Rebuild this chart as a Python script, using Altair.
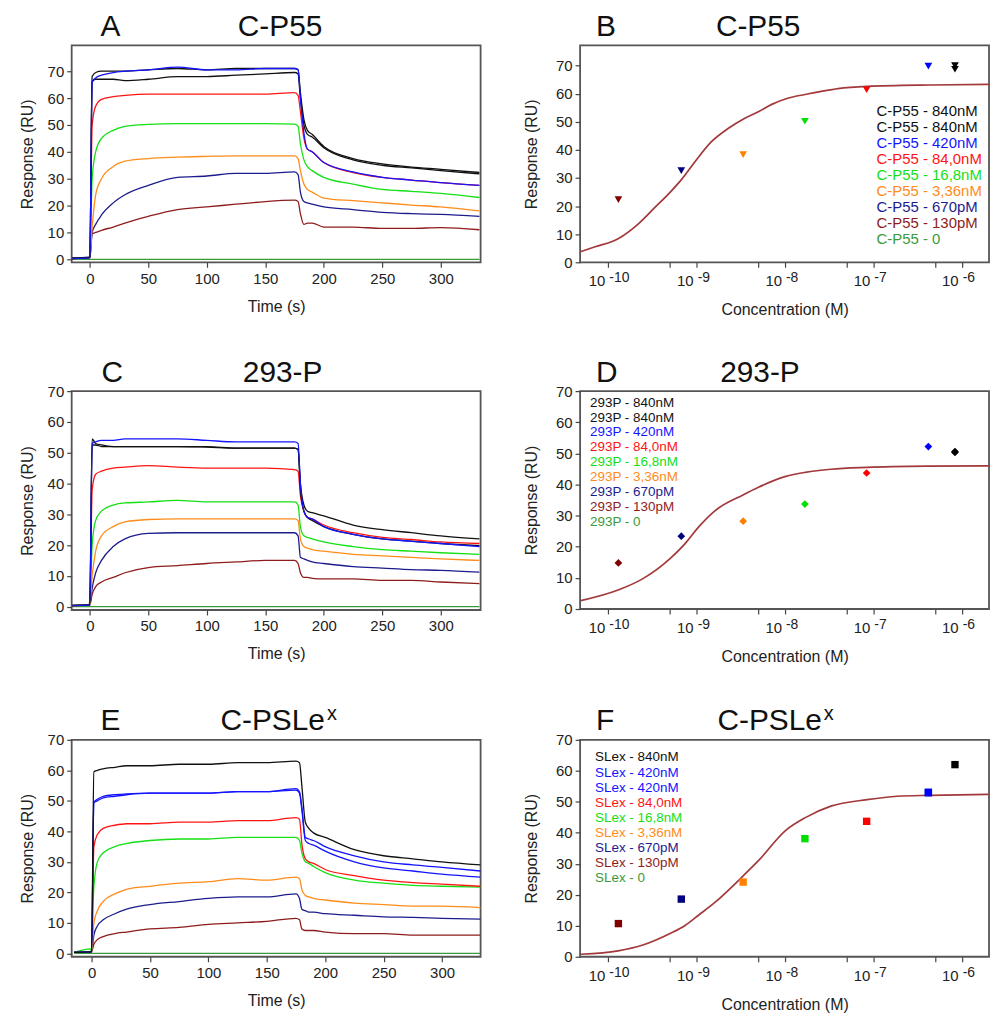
import altair as alt
import pandas as pd

FONT = "Liberation Sans"
TXT = "#222222"

# ---------------- colours ----------------
BLACK = "#111111"
BLUE = "#1414ff"
RED = "#ff1414"
GREEN = "#14e014"
ORANGE = "#ff8c1a"
NAVY = "#1c1c8e"
BROWN = "#8e1c1c"
DKGREEN = "#3a9a3a"
FIT = "#a3393a"

# ---------------- sensorgram data (left panels) ----------------
T = [-15, -1, 0, 2, 5, 10, 20, 30, 50, 75, 100, 125, 150, 175, 178, 180, 183, 186, 190, 200, 225, 250, 275, 300, 333]
T_ZERO = [-15, 333]
ZERO = [0, 0]

A_black1 = [0.5, 0.8, 1.0, 68, 69.5, 70, 70, 70, 70.5, 71, 70.5, 71, 71, 71, 70.5, 62, 52, 48, 46.5, 42, 37.5, 35.5, 34.3, 33.5, 32.3]
A_black2 = [0.3, 0.5, 0.8, 66, 67, 67, 67, 66.5, 67, 68, 68, 68.5, 69, 69.5, 69, 60, 50, 46.5, 45.5, 41.5, 37, 35, 34, 33, 31.8]
A_blue = [0.3, 0.5, 0.8, 66, 67.5, 68.5, 69.5, 70, 70.5, 71.5, 70.5, 70.5, 71, 71, 70.5, 60, 47, 41, 40, 36, 32.5, 30.5, 29.5, 28.5, 27.5]
A_red = [0.3, 0.5, 0.8, 50, 57, 59.5, 60.5, 61, 61.5, 61.5, 61.5, 61.5, 61.5, 62, 61, 55, 45, 41, 40, 36, 32.3, 30.5, 29.5, 28.5, 27.5]
A_green = [0.3, 0.5, 0.8, 30, 40, 45, 48, 49.5, 50.2, 50.5, 50.5, 50.5, 50.5, 50.3, 49.5, 43, 37, 34.5, 33, 30.5, 28, 26, 25.3, 24.5, 23]
A_orange = [0.3, 0.5, 0.5, 12, 24, 30, 34.5, 36.5, 37.5, 38, 38.3, 38.5, 38.5, 38.5, 37.5, 33, 28, 26, 25, 22.8, 21.8, 21, 20.2, 19.5, 18]
A_navy = [0.3, 0.5, 0.5, 10, 13, 16.5, 21, 24, 27.5, 30.5, 31, 32, 32, 32.5, 31.5, 25, 21.5, 21, 20.5, 19.5, 18.5, 17.5, 17, 16.7, 16]
A_brown = [0.3, 0.5, 0.5, 9.5, 10, 10.8, 12, 13.5, 16, 18.5, 19.5, 20.5, 21.5, 22, 21.5, 17, 13, 13.5, 13.5, 12, 12, 11.5, 11.5, 11.8, 11]

C_black1 = [0.5, 0.5, 2, 54.5, 53, 52.5, 52, 52, 52, 52, 52, 51.5, 51.5, 51.5, 51, 40, 33, 31, 30.5, 29.5, 26.5, 25, 24, 23, 22]
C_black2 = [0.3, 0.5, 0.5, 52.5, 52.5, 52, 52, 52, 52, 52, 51.8, 51.5, 51.5, 51.5, 51, 38, 31, 29, 28, 26, 23.5, 22, 21.3, 20.5, 19.8]
C_blue = [0.3, 0.5, 0.5, 53, 53.5, 54, 54, 54.5, 54.5, 54.5, 54, 53.5, 53.5, 53.5, 53, 40, 31, 29, 28.5, 26, 23.5, 22, 21.2, 20.5, 19.5]
C_red = [0.3, 0.5, 0.5, 38, 43, 44, 45, 45.3, 45.8, 45.3, 45, 45, 45, 44.5, 44, 36, 31, 29, 28.5, 26.5, 24, 22.5, 21.8, 21, 20.5]
C_green = [0.3, 0.5, 0.5, 20, 28, 31, 33, 33.7, 34, 34.5, 34, 34, 34, 34, 33, 26, 23, 22.5, 22, 21, 19.5, 18.5, 18, 17.5, 17]
C_orange = [0.3, 0.5, 0.5, 10, 18, 23, 26, 27.5, 28.3, 28.5, 28.5, 28.5, 28.5, 28.5, 28, 22, 19.5, 19, 18.5, 18, 17, 16.5, 16, 15.5, 15]
C_navy = [0.3, 0.5, 0.5, 6, 11, 15, 19.5, 22, 23.8, 24, 24, 24, 24, 24, 23, 16, 15.5, 15, 14.5, 14, 13, 12.5, 12, 11.8, 11.2]
C_brown = [0.3, 0.5, 0.5, 4, 6.5, 8, 9.5, 11, 12.7, 13.3, 14, 14.5, 15, 15, 14, 11, 9.5, 9.5, 9.2, 9, 9, 8.5, 8.5, 8, 7.5]

E_black = [0.3, 0.5, 0.5, 59.5, 60, 60.5, 61, 61.5, 61.5, 62, 62, 62.5, 62.5, 63, 62.5, 55, 43, 41, 39.5, 38, 34, 32, 31, 30, 29]
E_blue1 = [0.3, 0.5, 0.5, 49.5, 50, 51, 51.5, 52, 52.5, 52.5, 52.5, 53, 53, 54, 53, 48, 38, 37.5, 37, 35, 32, 30, 29, 28.2, 27]
E_blue2 = [0.3, 0.5, 0.5, 49.5, 50.5, 51.5, 52, 52.3, 52.5, 52.5, 52.5, 53, 53, 53.5, 52.5, 47, 37, 36, 35.5, 33.5, 30, 28, 27, 26, 25]
E_red = [0.3, 0.5, 0.5, 35, 39, 41, 42, 42.5, 42.5, 43, 43, 43.5, 43.5, 44.5, 44, 36, 31, 30, 29.5, 27.5, 25.5, 24, 23.2, 22.7, 22]
E_green = [0.3, 1.5, 0.5, 22, 30, 33, 35, 36, 37, 37.5, 37.5, 38, 38, 38, 37, 33, 30, 29.5, 28.5, 26.5, 24, 23, 22.3, 22, 21.7]
E_orange = [0.3, 0.5, 0.5, 10, 14, 17, 19.5, 21, 22, 23, 23.5, 24.5, 24, 25, 24.5, 21, 19, 18.5, 18, 17.5, 16.5, 16, 15.5, 15.5, 15]
E_navy = [0.3, 0.5, 0.5, 6, 9, 11, 13, 14.5, 16, 17, 18, 18.5, 18.5, 19.5, 18, 14.5, 14, 13.5, 13.5, 13, 12.5, 12, 11.8, 11.5, 11.2]
E_brown = [0.3, 0.5, 0.5, 3, 4.5, 5.5, 6.5, 7, 8, 8.5, 9.5, 10, 10.5, 11.5, 11, 8, 7.5, 7.5, 7.5, 7, 6.5, 6.5, 6, 6, 6]

# ---------------- dose-response data (right panels) ----------------
CONC = [8.4e-7, 8.4e-7, 4.2e-7, 8.4e-8, 1.68e-8, 3.36e-9, 6.7e-10, 1.3e-10]
PT_COLORS = ["#000000", "#000000", "#0000ff", "#ff0000", "#00e000", "#ff8000", "#000080", "#800000"]
B_resp = [70.0, 68.7, 69.8, 61.4, 50.2, 38.3, 32.6, 22.3]
D_resp = [50.3, 50.6, 52.2, 43.7, 33.7, 28.2, 23.4, 14.8]
CONC_F = [8.4e-7, 4.2e-7, 4.2e-7, 8.4e-8, 1.68e-8, 3.36e-9, 6.7e-10, 1.3e-10]
PT_COLORS_F = ["#000000", "#0000ff", "#0000ff", "#ff0000", "#00e000", "#ff8000", "#000080", "#800000"]
F_resp = [62.0, 52.9, 53.1, 43.7, 38.1, 24.1, 18.6, 10.7]

B_fit_c = [4.8e-11, 7.1e-11, 1.29e-10, 2.19e-10, 3.39e-10, 5.0e-10, 6.76e-10, 1.0e-9, 1.48e-9, 2.29e-9,
           3.47e-9, 5.0e-9, 7.08e-9, 1.05e-8, 1.74e-8, 2.57e-8, 3.98e-8, 8.5e-8, 4.37e-7, 2.04e-6]
B_fit_v = [3.7, 5.5, 8.4, 13.7, 19.6, 24.9, 29.5, 36.6, 43.0, 47.7, 51.2, 53.6, 56.2, 58.3, 59.8, 60.8, 61.8, 62.6, 63.1, 63.3]
D_fit_c = [4.9e-11, 1.29e-10, 2.41e-10, 5.0e-10, 7.4e-10, 1.05e-9, 1.62e-9, 3.39e-9, 5.0e-9, 1.02e-8,
           1.7e-8, 3.31e-8, 8.5e-8, 4.37e-7, 2.04e-6]
D_fit_v = [2.7, 6.1, 9.6, 16.2, 21.0, 26.3, 31.6, 36.7, 39.1, 42.6, 43.9, 44.9, 45.5, 45.9, 46.0]
F_fit_c = [4.9e-11, 1.29e-10, 2.41e-10, 5.0e-10, 7.4e-10, 1.05e-9, 1.62e-9, 3.39e-9, 5.0e-9, 1.02e-8,
           1.7e-8, 3.31e-8, 8.5e-8, 1.86e-7, 4.37e-7, 2.04e-6]
F_fit_v = [0.8, 1.9, 3.7, 7.5, 10.1, 13.4, 17.6, 26.2, 31.0, 40.8, 44.9, 48.6, 50.7, 51.8, 52.1, 52.4]

LEG_B = ["C-P55 - 840nM", "C-P55 - 840nM", "C-P55 - 420nM", "C-P55 - 84,0nM", "C-P55 - 16,8nM",
         "C-P55 - 3,36nM", "C-P55 - 670pM", "C-P55 - 130pM", "C-P55 - 0"]
LEG_D = ["293P - 840nM", "293P - 840nM", "293P - 420nM", "293P - 84,0nM", "293P - 16,8nM",
         "293P - 3,36nM", "293P - 670pM", "293P - 130pM", "293P - 0"]
LEG_F = ["SLex - 840nM", "SLex - 420nM", "SLex - 420nM", "SLex - 84,0nM", "SLex - 16,8nM",
         "SLex - 3,36nM", "SLex - 670pM", "SLex - 130pM", "SLex - 0"]
LEG_COLORS = [BLACK, BLACK, BLUE, RED, GREEN, ORANGE, NAVY, BROWN, DKGREEN]
LEG_COLORS_F = [BLACK, BLUE, BLUE, RED, GREEN, ORANGE, NAVY, BROWN, DKGREEN]

# ---------------- ticks ----------------
TIME_TICKS = [0, 50, 100, 150, 200, 250, 300]
RESP_TICKS = [0, 10, 20, 30, 40, 50, 60, 70]
CONC_TICKS = [1e-10, 5e-10, 1e-9, 5e-9, 1e-8, 5e-8, 1e-7, 5e-7, 1e-6]
DECADES = [1e-10, 1e-9, 1e-8, 1e-7, 1e-6]
EXPONENTS = ["-10", "-9", "-8", "-7", "-6"]

W = 411
TITLE_FS = 30
TITLE_Y = -9.5


def title_layers(letter, name, letter_x, name_x, name_align="center", sup=None, sup_x=None):
    df = pd.DataFrame({"letter": [letter], "name": [name]})
    base = alt.Chart(df)
    layers = [
        base.mark_text(align="left", baseline="alphabetic", fontSize=TITLE_FS, font=FONT, color="#111111")
        .encode(x=alt.value(letter_x), y=alt.value(TITLE_Y), text="letter:N"),
        base.mark_text(align=name_align, baseline="alphabetic", fontSize=TITLE_FS, font=FONT, color="#111111")
        .encode(x=alt.value(name_x), y=alt.value(TITLE_Y), text="name:N"),
    ]
    if sup:
        layers.append(
            base.mark_text(align="left", baseline="alphabetic", fontSize=20, font=FONT, color="#111111")
            .encode(x=alt.value(sup_x), y=alt.value(TITLE_Y - 10), text=alt.value(sup))
        )
    return layers


def sensor_chart(series, letter, name, ydom, height, xdom, letter_x, name_x, name_align="center",
                 sup=None, sup_x=None):
    rows = []
    for k, (times, vals, col) in enumerate(series):
        for t, v in zip(times, vals):
            rows.append({"t": t, "v": v, "k": k, "col": col})
    df = pd.DataFrame(rows)
    xs = alt.Scale(domain=xdom, nice=False, zero=False)
    ys = alt.Scale(domain=ydom, nice=False, zero=False)
    lines = alt.Chart(df).mark_line(strokeWidth=1.3, clip=True, interpolate="monotone").encode(
        x=alt.X("t:Q", scale=xs,
                axis=alt.Axis(values=TIME_TICKS, title="Time (s)", labelPadding=4, titlePadding=12)),
        y=alt.Y("v:Q", scale=ys,
                axis=alt.Axis(values=RESP_TICKS, title="Response (RU)", titlePadding=12)),
        color=alt.Color("col:N", scale=None),
        detail="k:N",
    )
    return alt.layer(lines, *title_layers(letter, name, letter_x, name_x, name_align, sup, sup_x)).properties(
        width=W, height=height)


def dose_chart(conc, resp, pcolors, shape, size, fit_c, fit_v, leg_labels, leg_colors,
               leg_x, leg_y0, leg_step, leg_fs, ydom, height, letter, name, letter_x, name_x,
               name_align="center", sup=None, sup_x=None):
    xs = alt.Scale(type="log", domain=[4.79e-11, 2.04e-6], nice=False)
    ys = alt.Scale(domain=ydom, nice=False, zero=False)
    xaxis = alt.Axis(values=CONC_TICKS, labels=False, title="Concentration (M)", titlePadding=34)
    yaxis = alt.Axis(values=RESP_TICKS, title="Response (RU)", titlePadding=16)

    fit = alt.Chart(pd.DataFrame({"c": fit_c, "v": fit_v})).mark_line(
        color=FIT, strokeWidth=1.7, interpolate="monotone", clip=True
    ).encode(x=alt.X("c:Q", scale=xs, axis=xaxis), y=alt.Y("v:Q", scale=ys, axis=yaxis))

    pts = alt.Chart(pd.DataFrame({"c": conc, "v": resp, "col": pcolors})).mark_point(
        shape=shape, filled=True, size=size, opacity=1
    ).encode(x=alt.X("c:Q", scale=xs, axis=xaxis), y=alt.Y("v:Q", scale=ys, axis=yaxis),
             color=alt.Color("col:N", scale=None))

    lab_df = pd.DataFrame({"c": DECADES, "exp": EXPONENTS, "v": [ydom[0]] * len(DECADES)})
    base10 = alt.Chart(lab_df).mark_text(
        align="right", baseline="alphabetic", dx=-3, dy=24, fontSize=15, font=FONT, color=TXT
    ).encode(x=alt.X("c:Q", scale=xs, axis=xaxis), y=alt.Y("v:Q", scale=ys, axis=yaxis),
             text=alt.value("10"))
    exps = alt.Chart(lab_df).mark_text(
        align="left", baseline="alphabetic", dx=1, dy=20, fontSize=14, font=FONT, color=TXT
    ).encode(x=alt.X("c:Q", scale=xs, axis=xaxis), y=alt.Y("v:Q", scale=ys, axis=yaxis),
             text="exp:N")

    main = alt.layer(fit, pts, base10, exps,
                     *title_layers(letter, name, letter_x, name_x, name_align, sup, sup_x))

    leg_df = pd.DataFrame({"label": leg_labels, "col": leg_colors, "row": list(range(len(leg_labels)))})
    n = len(leg_labels) - 1
    leg = alt.Chart(leg_df).mark_text(
        align="left", baseline="alphabetic", fontSize=leg_fs, font=FONT
    ).encode(
        x=alt.value(leg_x),
        y=alt.Y("row:Q", scale=alt.Scale(domain=[0, n], range=[leg_y0, leg_y0 + n * leg_step]), axis=None),
        text="label:N",
        color=alt.Color("col:N", scale=None),
    )
    return alt.layer(main, leg).resolve_scale(y="independent").properties(width=W, height=height)


def sensor_series(black1, black2, blue, red, green, orange, navy, brown):
    return [
        (T_ZERO, ZERO, DKGREEN),
        (T, brown, BROWN),
        (T, navy, NAVY),
        (T, orange, ORANGE),
        (T, green, GREEN),
        (T, red, RED),
        (T, black2, BLACK),
        (T, black1, BLACK),
        (T, blue, BLUE),
    ]


chartA = sensor_chart(sensor_series(A_black1, A_black2, A_blue, A_red, A_green, A_orange, A_navy, A_brown),
                      "A", "C-P55", [-1.1, 79.6], 218, [-15.5, 334], 29, 209.5)
chartC = sensor_chart(sensor_series(C_black1, C_black2, C_blue, C_red, C_green, C_orange, C_navy, C_brown),
                      "C", "293-P", [-1.1, 70], 220, [-15.5, 334], 30, 212)
seriesE = [
    (T_ZERO, ZERO, DKGREEN), (T, E_brown, BROWN), (T, E_navy, NAVY), (T, E_orange, ORANGE),
    (T, E_green, GREEN), (T, E_red, RED), (T, E_blue2, BLUE), (T, E_blue1, BLUE), (T, E_black, BLACK),
]
chartE = sensor_chart(seriesE, "E", "C-PSLe", [-1.1, 70], 218, [-17, 333], 29, 254.5, "right", "x", 256.5)

chartB = dose_chart(CONC, B_resp, PT_COLORS, "triangle-down", 60, B_fit_c, B_fit_v, LEG_B, LEG_COLORS,
                    298, 71, 16.1, 15, [0, 77.2], 218, "B", "C-P55", 16, 179)
chartD = dose_chart(CONC, D_resp, PT_COLORS, "diamond", 60, D_fit_c, D_fit_v, LEG_D, LEG_COLORS,
                    10, 15.6, 15, 13.5, [0, 70], 219, "D", "293-P", 16, 180.8)
chartF = dose_chart(CONC_F, F_resp, PT_COLORS_F, "square", 55, F_fit_c, F_fit_v, LEG_F, LEG_COLORS_F,
                    15, 21.7, 15.2, 13.5, [0, 70], 218, "F", "C-PSLe", 16, 243, "right", "x", 245)

rows = [
    alt.hconcat(chartA, chartB, spacing=41),
    alt.hconcat(chartC, chartD, spacing=41),
    alt.hconcat(chartE, chartF, spacing=41),
]

chart = alt.vconcat(*rows, spacing=37.5).properties(
    padding={"left": 10, "top": 0, "right": 0, "bottom": 0}
).configure_view(
    stroke="#555555", strokeWidth=1.8
).configure_axis(
    labelFont=FONT, titleFont=FONT, labelFontSize=15, titleFontSize=16, titleFontWeight="normal",
    labelColor=TXT, titleColor=TXT, tickColor="#444444", tickSize=5, tickWidth=1.2,
    domain=False, grid=False, labelPadding=3, labelFlush=False,
)

chart.save("out.html", embed_options={"renderer": "svg", "actions": False})
